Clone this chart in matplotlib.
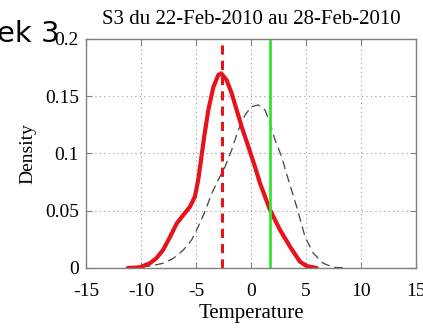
import matplotlib
matplotlib.use("Agg")
import matplotlib.pyplot as plt

# Data
red_x = [-11.2, -10.1, -9.2, -8.6, -8.0, -7.35, -6.75, -6.15, -5.55, -5.1, -4.8, -4.55,
         -4.25, -3.88, -3.42, -2.97, -2.7, -2.21, -1.76, -1.3, -0.85, -0.24, 0.36, 0.82,
         1.73, 2.64, 3.55, 4.45, 5.06, 5.97]
red_y = [0, 0.0006, 0.0041, 0.0085, 0.0157, 0.0273, 0.039, 0.0463, 0.0535, 0.0623, 0.0769, 0.094,
         0.115, 0.138, 0.158, 0.1686, 0.170, 0.164, 0.1526, 0.138, 0.1234, 0.106, 0.0885, 0.074,
         0.0507, 0.0332, 0.0186, 0.0055, 0.0017, 0.0]
clim_x = [-11.2, -9.2, -8.0, -7.05, -6.15, -5.4, -4.8, -4.2, -3.58, -2.97, -2.36, -1.76,
          -1.15, -0.55, 0.06, 0.67, 1.27, 1.73, 2.18, 2.79, 3.24, 4.15, 4.91, 5.67, 6.58, 7.48, 8.7]
clim_y = [0, 0.0017, 0.0041, 0.0085, 0.0157, 0.0245, 0.036, 0.049, 0.065, 0.077, 0.0885, 0.103,
          0.1205, 0.1336, 0.141, 0.1424, 0.138, 0.1264, 0.112, 0.097, 0.082, 0.0535, 0.0273,
          0.0128, 0.0041, 0.0006, 0]
red_mode = -2.65
green_value = 1.75
x_ticks = [-15, -10, -5, 0, 5, 10, 15]
x_tick_labels = ["-15", "-10", "-5", "0", "5", "10", "15"]
y_ticks = [0, 0.05, 0.1, 0.15, 0.2]
y_tick_labels = ["0", "0.05", "0.1", "0.15", "0.2"]
title = "S3 du 22-Feb-2010 au 28-Feb-2010"

plt.rcParams['font.family'] = ['Liberation Serif', 'DejaVu Serif']

fig = plt.figure(figsize=(4.23, 3.33), dpi=100)
ax = fig.add_axes([86/423, 65/333, 330/423, 229/333])

ax.plot(clim_x, clim_y, color='#444444', lw=0.9, ls=(0, (7, 4)))
ax.plot(red_x, red_y, color='#e8121a', lw=3.0, solid_capstyle='round', solid_joinstyle='round')
ax.axvline(red_mode, color='#e8121a', lw=2.2, ls=(0, (3, 2)))
ax.axvline(green_value, color='#33e633', lw=2.0)

ax.set_xlim(-15, 15)
ax.set_ylim(0, 0.2)
ax.set_xticks(x_ticks)
ax.set_xticklabels(x_tick_labels)
ax.set_yticks(y_ticks)
ax.set_yticklabels(y_tick_labels)
ax.grid(True, color='#999999', ls=(0, (1, 3)), lw=0.8)
ax.tick_params(direction='in', top=True, right=True, length=4, width=0.8,
               colors='#808080', labelcolor='black', labelsize=14)
ax.tick_params(axis='y', pad=5)
ax.tick_params(axis='x', pad=11)
for s in ax.spines.values():
    s.set_color('#808080')
    s.set_linewidth(1.0)

ax.set_title(title, fontsize=15, pad=11)
ax.set_xlabel("Temperature", fontsize=15, labelpad=3)
ax.set_ylabel("Density", fontsize=14, labelpad=6)

fig.text(-0.008, 0.874, "ek 3", fontsize=21, family=['DejaVu Sans'],
         ha='left', va='baseline', color='black')

fig.savefig("out.png", dpi=100)
